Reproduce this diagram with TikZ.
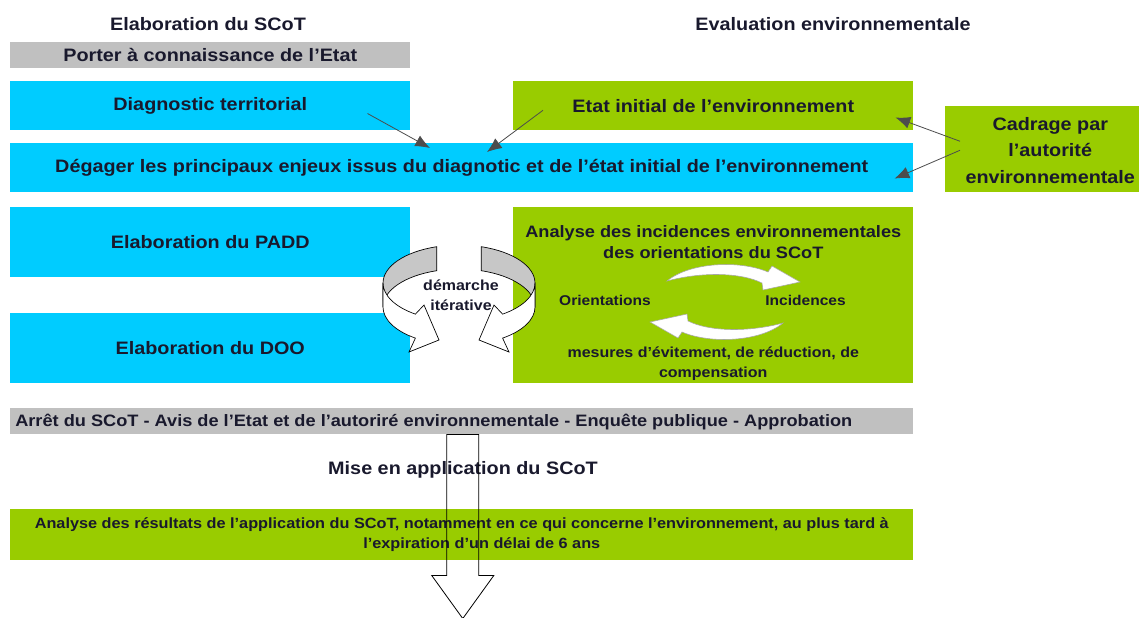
\documentclass[tikz,border=0pt]{standalone}
\usepackage{fontspec}
\setmainfont{Liberation Sans}[FakeStretch=1.1]
\usepackage{tikz}
\usetikzlibrary{calc}
\usetikzlibrary{arrows.meta,shapes}
\usetikzlibrary{positioning}
\usepackage{xcolor}
\definecolor{bleuscot}{RGB}{0,204,255}
\definecolor{vertenv}{RGB}{153,204,0}
\definecolor{grisbar}{RGB}{192,192,192}
\definecolor{encre}{RGB}{25,25,45}
\newcommand{\grand}{\fontsize{13.5}{16}\selectfont\bfseries}
\newcommand{\moyen}{\fontsize{10.6}{15.5}\selectfont\bfseries}
\newcommand{\petit}{\fontsize{10.9}{15}\selectfont\bfseries}

\tikzset{
  boite/.style={anchor=north west, inner sep=0pt, align=center, text=encre, font=\grand},
  bleu/.style={boite, fill=bleuscot},
  vert/.style={boite, fill=vertenv},
  gris/.style={boite, fill=grisbar},
  texte/.style={inner sep=0pt, align=center, text=encre},
  fleche/.style={draw=black!70, line width=0.6pt, -{Latex[length=11pt,width=9pt]}},
  rubanfond/.style={fill=black!22, draw=black, line width=0.5pt},
  rubanface/.style={fill=white, draw=black, line width=0.5pt},
  boucle/.style={fill=white, draw=black!35, line width=0.4pt},
}

\begin{document}
\begin{tikzpicture}[x=0.75pt,y=-0.75pt]
    \useasboundingbox[fill=white] (0,0) rectangle (1141,617);
    % titres des colonnes
    \node[texte, font=\grand] (titreg) at (208,24) {Elaboration du SCoT};
    \node[texte, font=\grand] (titred) at (833,24) {Evaluation environnementale};
    % colonne gauche
    \node[gris, minimum width=300pt, minimum height=19.5pt] (porter) at (10,42) {Porter à connaissance de l'Etat};
    \node[bleu, minimum width=300pt, minimum height=36.75pt] (diag) at (10,81) {Diagnostic territorial};
    \node[vert, minimum width=300pt, minimum height=36.75pt] (etat) at (513,81) {Etat initial de l'environnement};
    \node[bleu, minimum width=677.25pt, minimum height=36.75pt] (enjeux) at (10,143) {Dégager les principaux enjeux issus du diagnotic et de l'état initial de l'environnement};
    \node[vert, minimum width=145.5pt, minimum height=64.5pt] (cadrage) at (945,106) {};
    \node[texte, font=\fontsize{13.5}{20}\selectfont\bfseries] (cadragetxt) at ($(cadrage.center)+(8,1)$) {Cadrage par\\l'autorité\\environnementale};
    \node[bleu, minimum width=300pt, minimum height=52.5pt] (padd) at (10,207) {Elaboration du PADD};
    \node[bleu, minimum width=300pt, minimum height=52.5pt] (doo) at (10,313) {Elaboration du DOO};
    % analyse des incidences
    \node[vert, minimum width=300pt, minimum height=132pt] (analyse) at (513,207) {};
    \node[texte, font=\fontsize{12.4}{15.5}\selectfont\bfseries] (analysetitre) at ($(analyse.north)+(0,35)$) {Analyse des incidences environnementales\\des orientations du SCoT};
    \node[texte, font=\moyen] (orient) at ($(analyse.west)+(92,5)$) {Orientations};
    \node[texte, font=\moyen] (incid) at ($(analyse.east)+(-108,5)$) {Incidences};
    \node[texte, font=\fontsize{10.9}{15}\selectfont\bfseries] (mesures) at ($(analyse.south)+(0,-20)$) {mesures d'évitement, de réduction, de\\compensation};
    \path[boucle] (667,281) .. controls (690,262) and (740,260) .. (768,272) -- (772,266) -- (800,282) -- (763,290) -- (762,283) .. controls (740,272) and (700,272) .. (667,281) -- cycle;
    \path[boucle] (783,323) .. controls (760,342) and (710,344) .. (682,332) -- (678,338) -- (650,322) -- (687,314) -- (688,321) .. controls (710,332) and (750,332) .. (783,323) -- cycle;
    % bas
    \node[gris, minimum width=677.25pt, minimum height=19.5pt] (arret) at (10,408) {};
    \node[texte, anchor=west, font=\fontsize{12.4}{15}\selectfont\bfseries] (arrettxt) at ($(arret.west)+(5,1)$) {Arrêt du SCoT - Avis de l'Etat et de l'autoriré environnementale - Enquête publique - Approbation};
    \node[texte, font=\grand] (miseapp) at (463,470) {Mise en application du SCoT};
    \node[vert, font=\fontsize{11.1}{15}\selectfont\bfseries, minimum width=677.25pt, minimum height=38.25pt] (resultats) at (10,509) {Analyse des résultats de l'application du SCoT, notamment en ce qui concerne l'environnement, au plus tard à\\\hspace*{30pt}l'expiration d'un délai de 6 ans};
    % fleches fines
    \draw[fleche] ($(diag.south east)+(-43,-17)$) -- ($(enjeux.north west)+(420,5)$);
    \draw[fleche] ($(etat.west)+(30,4.5)$) -- ($(enjeux.north west)+(477,9)$);
    \draw[fleche] ($(cadrage.west)+(15,-8)$) -- ($(etat.south east)+(-18,-13)$);
    \draw[fleche] ($(cadrage.west)+(15,1)$) -- ($(enjeux.south east)+(-19,-14)$);
    % demarche iterative
    \path[rubanfond] (436.8,246.7) arc[start angle=253, end angle=180, x radius=76, y radius=38] -- ++(0,24) arc[start angle=180, end angle=253, x radius=76, y radius=38] -- cycle;
    \path[rubanface] (383,283) arc[start angle=180, end angle=125, x radius=76, y radius=38] -- (424,305) -- (439,340) -- (409,352) -- (415.4,338.1) arc[start angle=125, end angle=180, x radius=76, y radius=38] -- cycle;
    \path[rubanfond] (481.2,246.7) arc[start angle=287, end angle=360, x radius=76, y radius=38] -- ++(0,24) arc[start angle=360, end angle=287, x radius=76, y radius=38] -- cycle;
    \path[rubanface] (535,283) arc[start angle=0, end angle=55, x radius=76, y radius=38] -- (494,305) -- (479,340) -- (509,352) -- (502.6,338.1) arc[start angle=55, end angle=0, x radius=76, y radius=38] -- cycle;
    \node[texte, font=\petit] (demarche) at (461,295) {démarche\\itérative};
    % grande fleche
    \draw[line width=0.6pt] ($(arret.south)+(-15,0)$) -- ++(0,141) -- ++(-15,0) -- ++(31,43) -- ++(31,-43) -- ++(-15,0) -- ($(arret.south)+(17,0)$) -- cycle;
\end{tikzpicture}
\end{document}
